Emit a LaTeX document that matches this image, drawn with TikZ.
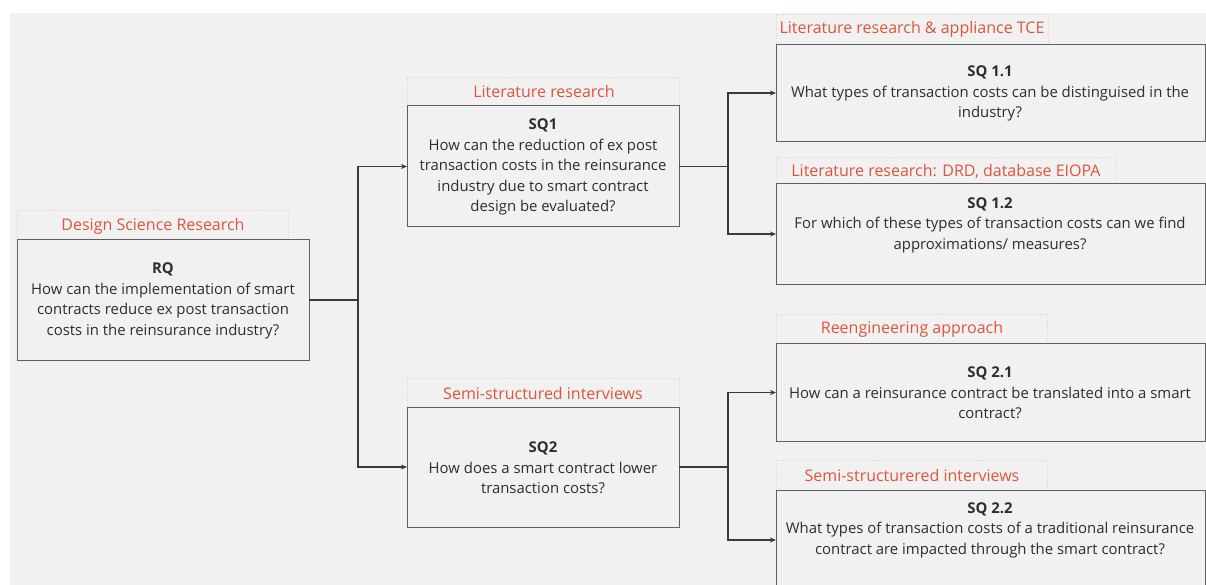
\documentclass[tikz,border=0pt]{standalone}
\usepackage{fontspec}
\setmainfont{Open Sans}
\usetikzlibrary{arrows.meta,calc}
\definecolor{canvas}{HTML}{F1F1F1}
\definecolor{frame}{HTML}{5F5F5F}
\definecolor{wire}{HTML}{3A3A3A}
\definecolor{ink}{HTML}{2E2E2E}
\definecolor{method}{HTML}{DF543C}
\definecolor{tagline}{HTML}{EDC9C1}
\tikzset{
  qbox/.style={draw=frame, line width=1pt, fill=canvas, rectangle, inner sep=0pt, outer sep=0pt},
  tagbox/.style={draw=tagline, dotted, line width=0.6pt, rectangle, inner sep=0pt, outer sep=0pt},
  qtext/.style={align=center, text=ink, font=\fontsize{14.9}{20.6}\selectfont, inner sep=0pt},
  tagtext/.style={text=method, font=\fontsize{16}{19}\selectfont, inner sep=0pt},
  conn/.style={draw=wire, line width=1.4pt},
  arr/.style={conn, -{Stealth[length=6pt,width=5pt]}}
}
\begin{document}
\begin{tikzpicture}[x=1pt,y=-1pt]
\useasboundingbox (0,0) rectangle (1206,585);
\clip (0,0) rectangle (1206,585);
\fill[white] (0,0) rectangle (1206,585);
\fill[canvas] (10,13) rectangle (1206,585);

% method tags above each question box
\node[tagbox, minimum width=271pt, minimum height=30pt] (rqtag) at (152.5,225) {};
\node[tagbox, minimum width=272pt, minimum height=29pt] (sq1tag) at (543,91.5) {};
\node[tagbox, minimum width=272pt, minimum height=29pt] (sq2tag) at (543,392.5) {};
\node[tagbox, minimum width=272pt, minimum height=30pt] (sq11tag) at (912,29) {};
\node[tagbox, minimum width=339pt, minimum height=27pt] (sq12tag) at (945.5,170.5) {};
\node[tagbox, minimum width=271pt, minimum height=29pt] (sq21tag) at (911.5,328.5) {};
\node[tagbox, minimum width=271pt, minimum height=30pt] (sq22tag) at (911.5,475) {};

\node[tagtext] (rqlab) at (153,226) {Design Science Research};
\node[tagtext] (sq1lab) at (544,92) {Literature research};
\node[tagtext] (sq2lab) at (543,393) {Semi-structured interviews};
\node[tagtext] (sq11lab) at (912,29) {Literature research \& appliance TCE};
\node[tagtext] (sq12lab) at (946,171) {Literature research: DRD, database EIOPA};
\node[tagtext] (sq21lab) at (912,329) {Reengineering approach};
\node[tagtext] (sq22lab) at (912,475) {Semi-structurered interviews};

% question boxes
\node[qbox, minimum width=292pt, minimum height=120pt] (rq) at (163,300) {};
\node[qbox, minimum width=272pt, minimum height=121pt] (sq1) at (543,166.5) {};
\node[qbox, minimum width=272pt, minimum height=120pt] (sq2) at (543,467) {};
\node[qbox, minimum width=429pt, minimum height=97pt] (sq11) at (990.5,93) {};
\node[qbox, minimum width=429pt, minimum height=100pt] (sq12) at (990.5,234) {};
\node[qbox, minimum width=429pt, minimum height=98pt] (sq21) at (990.5,392.5) {};
\node[qbox, minimum width=429pt, minimum height=100pt] (sq22) at (990.5,540) {};

% question texts
\node[qtext] (rqt) at (163,301) {\textbf{RQ}\\How can the implementation of smart\\contracts reduce ex post transaction\\costs in the reinsurance industry?};
\node[qtext] (sq1t) at (543,167) {\textbf{SQ1}\\How can the reduction of ex post\\transaction costs in the reinsurance\\industry due to smart contract\\design be evaluated?};
\node[qtext] (sq2t) at (543,468) {\textbf{SQ2}\\How does a smart contract lower\\transaction costs?};
\node[qtext] (sq11t) at (990,93.5) {\textbf{SQ 1.1}\\What types of transaction costs can be distinguised in the\\industry?};
\node[qtext] (sq12t) at (990,225) {\textbf{SQ 1.2}\\For which of these types of transaction costs can we find\\approximations/ measures?};
\node[qtext] (sq21t) at (990,393) {\textbf{SQ 2.1}\\How can a reinsurance contract be translated into a smart\\contract?};
\node[qtext] (sq22t) at (990,530) {\textbf{SQ 2.2}\\What types of transaction costs of a traditional reinsurance\\contract are impacted through the smart contract?};

% connectors
\coordinate (j0) at ($(rq.east)+(49,0)$);
\coordinate (j1) at ($(sq1.east)+(49,0)$);
\coordinate (j2) at ($(sq2.east)+(49,0)$);
\draw[conn] (rq.east) -- (j0);
\draw[arr] (j0) |- (sq1.west);
\draw[arr] (j0) |- (sq2.west);
\draw[conn] (sq1.east) -- (j1);
\draw[arr] (j1) |- (sq11.west);
\draw[arr] (j1) |- (sq12.west);
\draw[conn] (sq2.east) -- (j2);
\draw[arr] (j2) |- (sq21.west);
\draw[arr] (j2) |- (sq22.west);
\end{tikzpicture}
\end{document}
